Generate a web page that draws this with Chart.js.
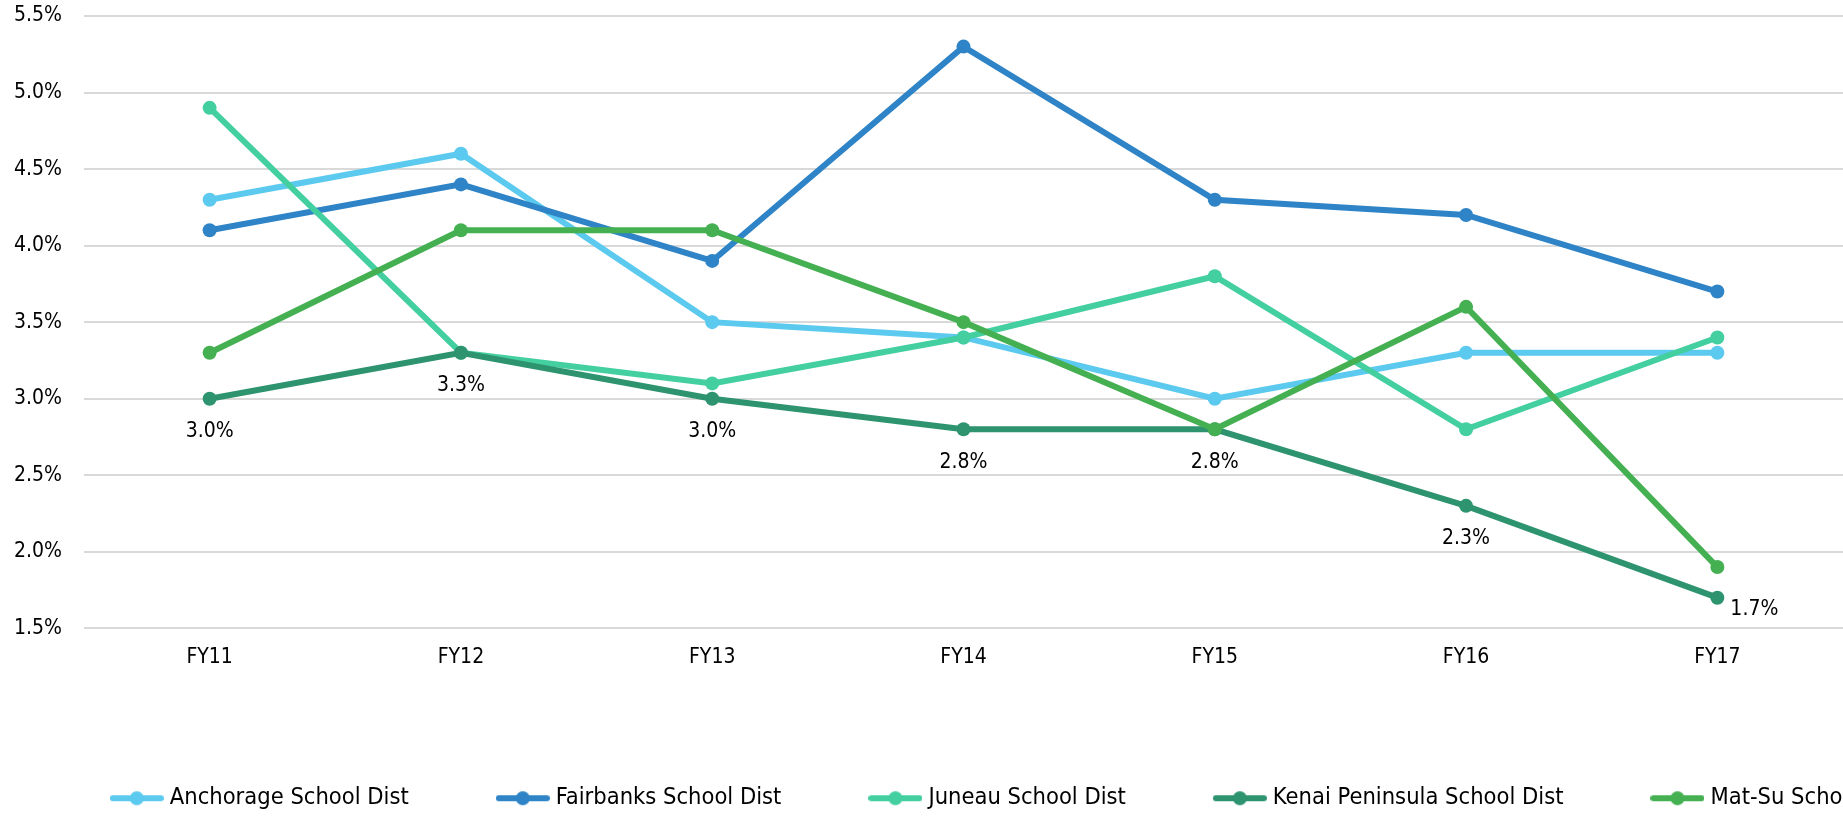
<!DOCTYPE html>
<html>
<head>
<meta charset="utf-8">
<script src="https://cdn.jsdelivr.net/npm/chart.js@4"></script>
<style>
  html, body { margin: 0; padding: 0; overflow: hidden; background: #fff; }
  #wrap { position: absolute; left: 0; top: 0; height: 822px; }
</style>
</head>
<body>
<div id="wrap"><canvas id="myChart"></canvas></div>
<script>
const years = ['FY11', 'FY12', 'FY13', 'FY14', 'FY15', 'FY16', 'FY17']

const anchorage = [4.3, 4.6, 3.5, 3.4, 3.0, 3.3, 3.3]
const fairbanks = [4.1, 4.4, 3.9, 5.3, 4.3, 4.2, 3.7]
const juneau = [4.9, 3.3, 3.1, 3.4, 3.8, 2.8, 3.4]
const kenai = [3.0, 3.3, 3.0, 2.8, 2.8, 2.3, 1.7]
const matsu = [3.3, 4.1, 4.1, 3.5, 2.8, 3.6, 1.9]

const names = ['Anchorage School Dist', 'Fairbanks School Dist', 'Juneau School Dist',
  'Kenai Peninsula School Dist', 'Mat-Su School Dist']
const colors = ['#5ccaef', '#2e84c6', '#43cf9f', '#2e9470', '#44b052']
const series = [anchorage, fairbanks, juneau, kenai, matsu]

// label offsets for the Kenai values (px from the point)
const labelOffsets = [[0, 33], [0, 33], [0, 33], [0, 33], [0, 33], [0, 33], [37, 12]]

const FONT = '"DejaVu Sans Condensed", "DejaVu Sans", sans-serif'
const tickSize = 21
const legendSize = 23.5
const markW = 54
const boxW = 42.5
const legendPad = 87 + (markW - boxW) / 2

// legend marker: short line with a dot
function marker(color) {
  const c = document.createElement('canvas')
  c.width = markW
  c.height = 16
  const g = c.getContext('2d')
  g.strokeStyle = color
  g.lineWidth = 6
  g.lineCap = 'round'
  g.beginPath()
  g.moveTo(3, 8)
  g.lineTo(markW - 3, 8)
  g.stroke()
  g.fillStyle = color
  g.beginPath()
  g.arc(markW / 2, 8, 7, 0, Math.PI * 2)
  g.fill()
  return c
}
const markers = colors.map(marker)

// canvas is wider than the window so the legend runs off the right edge
const mctx = document.createElement('canvas').getContext('2d')
mctx.font = legendSize + 'px ' + FONT
let lineW = 0
names.forEach(n => { lineW += boxW + legendSize / 2 + mctx.measureText(n).width + legendPad })
const startX = 110 + (markW - boxW) / 2
const W = Math.round(2 * startX - legendPad + lineW)
const plotRight = 1843
document.getElementById('wrap').style.width = W + 'px'

const legendH = legendSize + legendPad + 10
const padBottom = 2
const plotBottom = 628.3

const datasets = series.map((s, i) => ({
  label: names[i],
  data: s,
  borderColor: colors[i],
  backgroundColor: colors[i],
  borderWidth: 6,
  pointRadius: 7,
  pointHoverRadius: 7,
  pointBorderWidth: 0,
  tension: 0,
  order: -i,
  yAxisID: 'y'
}))

const valueLabels = {
  id: 'valueLabels',
  afterDatasetsDraw(chart) {
    const meta = chart.getDatasetMeta(3)
    const ctx = chart.ctx
    ctx.save()
    ctx.font = tickSize + 'px ' + FONT
    ctx.fillStyle = '#000'
    ctx.textAlign = 'center'
    ctx.textBaseline = 'middle'
    meta.data.forEach((pt, i) => {
      const v = kenai[i].toFixed(1) + '%'
      ctx.fillText(v, pt.x + labelOffsets[i][0], pt.y + labelOffsets[i][1])
    })
    ctx.restore()
  }
}

const config = {
  type: 'line',
  data: { labels: years, datasets: datasets },
  options: {
    responsive: true,
    maintainAspectRatio: false,
    animation: false,
    layout: { padding: { top: 16, bottom: padBottom, left: 0, right: 0 } },
    scales: {
      x: {
        type: 'category',
        offset: true,
        grid: { display: false, drawTicks: false },
        border: { display: false },
        ticks: { color: '#000', font: { size: tickSize, family: FONT }, padding: 17, maxRotation: 0 },
        afterFit: s => { s.height = 822 - plotBottom - legendH - padBottom }
      },
      y: {
        min: 1.5,
        max: 5.5,
        grid: { color: '#d9d9d9', lineWidth: 2, drawTicks: true, tickLength: 19, tickColor: 'rgba(0,0,0,0)' },
        border: { display: false },
        ticks: {
          stepSize: 0.5,
          color: '#000',
          padding: 3,
          font: { size: tickSize, family: FONT },
          callback: v => v.toFixed(1) + '%'
        },
        afterFit: s => { s.width = 84 }
      },
      y2: {
        position: 'right',
        display: true,
        grid: { display: false, drawTicks: false },
        border: { display: false },
        ticks: { display: false },
        afterFit: s => { s.width = W - plotRight }
      }
    },
    plugins: {
      tooltip: { enabled: false },
      legend: {
        position: 'bottom',
        labels: {
          usePointStyle: true,
          pointStyleWidth: boxW,
          padding: legendPad,
          color: '#000',
          font: { size: legendSize, family: FONT },
          sort: (a, b) => a.datasetIndex - b.datasetIndex,
          generateLabels: chart => {
            const items = Chart.defaults.plugins.legend.labels.generateLabels(chart)
            items.forEach(it => { it.pointStyle = markers[it.datasetIndex] })
            return items
          }
        }
      }
    }
  },
  plugins: [valueLabels]
}

const myChart = new Chart(document.getElementById('myChart'), config)
</script>
</body>
</html>
